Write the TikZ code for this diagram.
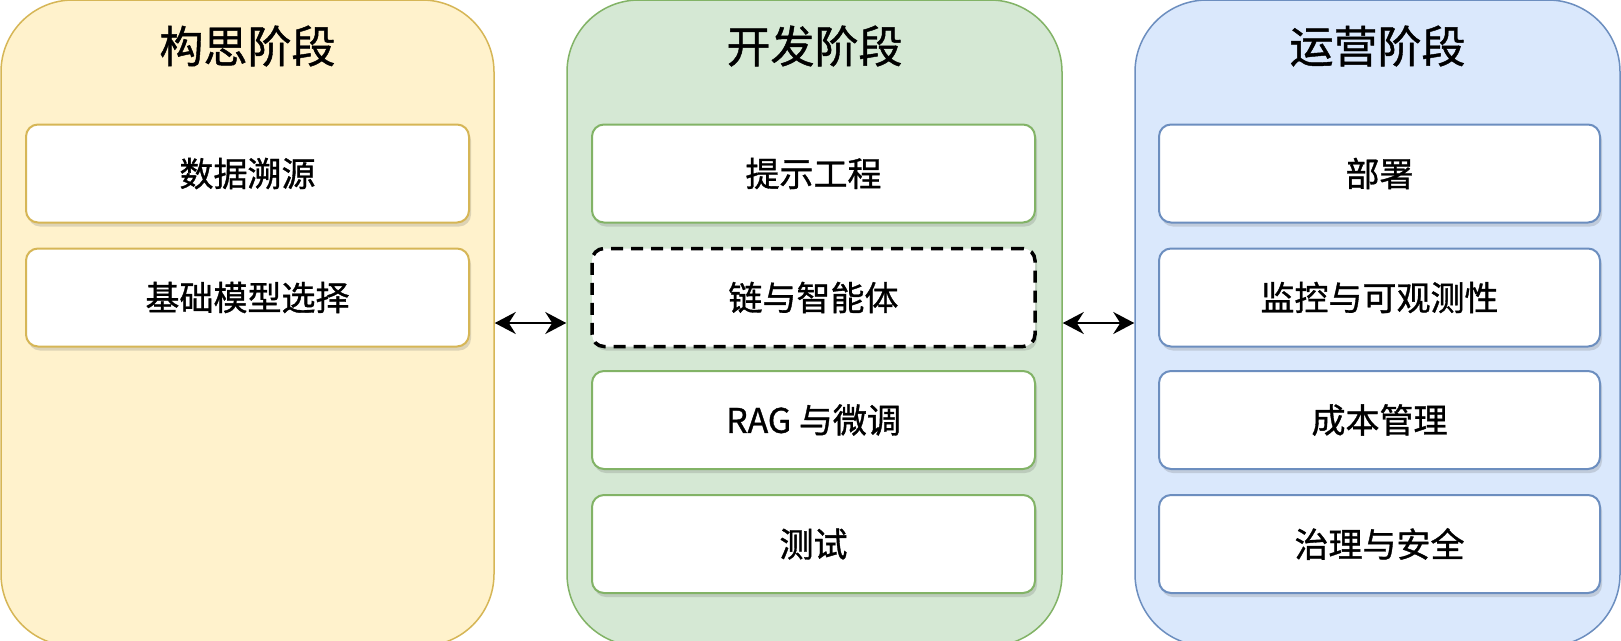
\documentclass[tikz,border=0pt]{standalone}
\usepackage{fontspec}
\setmainfont{Noto Sans CJK SC}[FakeBold=1.0]
\usetikzlibrary{arrows.meta,shadows}
\definecolor{yfill}{HTML}{FFF2CC}
\definecolor{ydraw}{HTML}{D6B656}
\definecolor{gfill}{HTML}{D5E8D4}
\definecolor{gdraw}{HTML}{82B366}
\definecolor{bfill}{HTML}{DAE8FC}
\definecolor{bdraw}{HTML}{6C8EBF}
\tikzset{
  phase/.style={draw=#1, line width=1.5pt, rounded corners=72pt, minimum height=646pt, inner sep=0pt},
  item/.style={draw=#1, line width=2pt, fill=white, rounded corners=12pt,
    minimum height=98pt, inner sep=0pt, font=\fontsize{34}{40}\selectfont,
    drop shadow={shadow xshift=2pt, shadow yshift=-4pt, opacity=0.22, fill=black!60}},
  dashitem/.style={draw=black, line width=3.5pt, dash pattern=on 12pt off 8pt, fill=white, rounded corners=12pt,
    minimum height=98pt, inner sep=0pt, font=\fontsize{34}{40}\selectfont,
    drop shadow={shadow xshift=2pt, shadow yshift=-4pt, opacity=0.22, fill=black!60}},
  ptitle/.style={font=\fontsize{44}{50}\selectfont, inner sep=0pt},
  tipstyle/.style={line width=2.2pt, {Stealth[length=21pt,width=22pt,inset=7pt]}-{Stealth[length=21pt,width=22pt,inset=7pt]}}
}
\begin{document}
\begin{tikzpicture}[x=1pt,y=-1pt]
\useasboundingbox (0,0) rectangle (1621,640);
\clip (0,0) rectangle (1621,640);
\fill[white] (0,0) rectangle (1621,640);
% containers
\node[phase=ydraw, fill=yfill, minimum width=493pt] (c1) at (247.5,323) {};
\node[phase=gdraw, fill=gfill, minimum width=495pt] (c2) at (814.5,323) {};
\node[phase=bdraw, fill=bfill, minimum width=485pt] (c3) at (1377.5,323) {};
% titles
\node[ptitle] (t1) at (247.5,46) {构思阶段};
\node[ptitle] (t2) at (814.5,46) {开发阶段};
\node[ptitle] (t3) at (1377.5,46) {运营阶段};
% left items
\node[item=ydraw, minimum width=443pt] (a1) at (247.5,173.5) {数据溯源};
\node[item=ydraw, minimum width=443pt] (a2) at (247.5,297.5) {基础模型选择};
% middle items
\node[item=gdraw, minimum width=443pt] (b1) at (813.5,173.5) {提示工程};
\node[dashitem, minimum width=443pt] (b2) at (813.5,297.5) {链与智能体};
\node[item=gdraw, minimum width=443pt] (b3) at (813.5,420) {RAG 与微调};
\node[item=gdraw, minimum width=443pt] (b4) at (813.5,544) {测试};
% right items
\node[item=bdraw, minimum width=441pt] (r1) at (1379.5,173.5) {部署};
\node[item=bdraw, minimum width=441pt] (r2) at (1379.5,297.5) {监控与可观测性};
\node[item=bdraw, minimum width=441pt] (r3) at (1379.5,420) {成本管理};
\node[item=bdraw, minimum width=441pt] (r4) at (1379.5,544) {治理与安全};
% connectors
\draw[tipstyle] (c1.east) -- (c2.west);
\draw[tipstyle] (c2.east) -- (c3.west);
\end{tikzpicture}
\end{document}
